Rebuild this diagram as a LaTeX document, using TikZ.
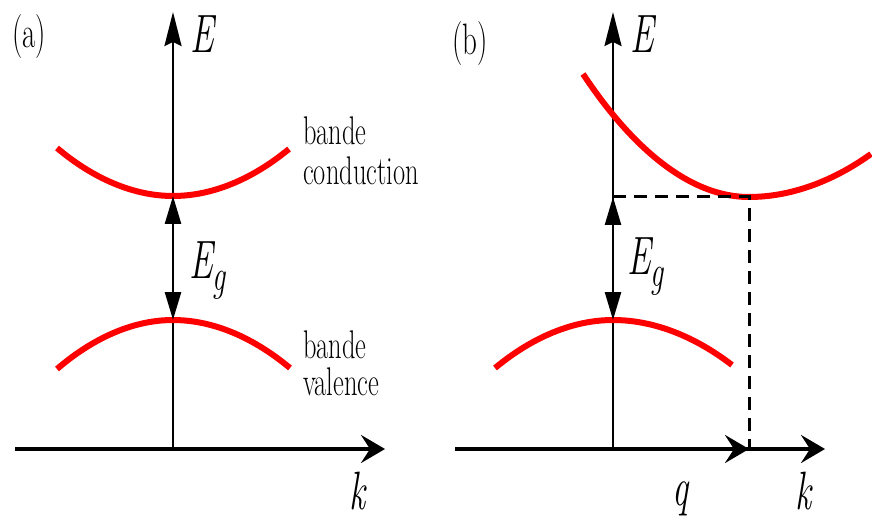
\documentclass[tikz,border=0pt]{standalone}
\usepackage{graphicx}
\usetikzlibrary{arrows.meta}

% squeezed text, as in the scanned figure
\newcommand{\nrw}[1]{\scalebox{0.66}[1]{#1}}

\begin{document}
\begin{tikzpicture}[
  x=1pt, y=-1pt,
  axis/.style={line width=3.5pt, -{Stealth[length=24pt, width=28pt, inset=9pt]}},
  vaxis/.style={line width=2.5pt, -{Stealth[length=34pt, width=17pt, inset=4pt]}},
  band/.style={red, line width=6pt},
  gaparrow/.style={line width=2.5pt, {Triangle[length=28pt, width=16pt]}-{Triangle[length=28pt, width=16pt]}},
  guide/.style={line width=3pt, dash pattern=on 13pt off 8pt},
  tag/.style={font=\fontsize{44}{44}\selectfont, inner sep=0pt, anchor=base west},
  lbl/.style={font=\fontsize{40}{40}\selectfont, inner sep=0pt, anchor=base west},
  sym/.style={font=\fontsize{54}{54}\selectfont\itshape, inner sep=0pt, anchor=base west}
]
  \useasboundingbox (0,0) rectangle (872,521);

  % ---- (a) direct gap ----
  \coordinate (sa) at (15,449);
  \coordinate (oa) at (173,449);
  \coordinate (ka) at (385,449);
  \coordinate (ea) at (173,12);
  \coordinate (cba) at (173,196);
  \coordinate (vba) at (173,320);

  \draw[axis] (sa) -- (ka);
  \draw[vaxis] (oa) -- (ea);

  % bands
  \draw[band] (57,148) parabola bend (cba) (289,149);
  \draw[band] (57,369) parabola bend (vba) (290,368);

  % gap
  \draw[gaparrow] (cba) -- (vba);

  \node[tag] (taga) at (12,48) {\nrw{(a)}};
  \node[sym] (Ea) at (190,53) {\nrw{E}};
  \node[sym] (Ega) at (189,278) {\nrw{E\raisebox{-12pt}{\fontsize{44}{44}\selectfont g}}};
  \node[sym] (kxa) at (349,509) {\nrw{k}};
  \node[lbl] (cond1) at (303,145) {\nrw{bande}};
  \node[lbl] (cond2) at (303,185) {\nrw{conduction}};
  \node[lbl] (val1) at (303,358) {\nrw{bande}};
  \node[lbl] (val2) at (303,395) {\nrw{valence}};

  % ---- (b) indirect gap ----
  \coordinate (sb) at (455,449);
  \coordinate (ob) at (613,449);
  \coordinate (qb) at (749,449);
  \coordinate (kb) at (825,449);
  \coordinate (eb) at (613,12);
  \coordinate (gb) at (613,197);
  \coordinate (cbb) at (749,197);
  \coordinate (vbb) at (613,320);

  \draw[axis] (sb) -- (kb);
  \draw[axis] (ob) -- (qb);
  \draw[vaxis] (ob) -- (eb);

  % bands
  \draw[band] (583,74) parabola bend (cbb) (871,154);
  \draw[band] (495,368) parabola bend (vbb) (732,365);

  % guides to the minimum
  \draw[guide] (gb) -- (cbb) -- (qb);

  % gap
  \draw[gaparrow] (gb) -- (vbb);

  \node[tag] (tagb) at (452,55) {\nrw{(b)}};
  \node[sym] (Eb) at (630,53) {\nrw{E}};
  \node[sym] (Egb) at (627,274) {\nrw{E\raisebox{-12pt}{\fontsize{44}{44}\selectfont g}}};
  \node[sym] (qxb) at (672,505) {\nrw{q}};
  \node[sym] (kxb) at (795,509) {\nrw{k}};
\end{tikzpicture}
\end{document}
